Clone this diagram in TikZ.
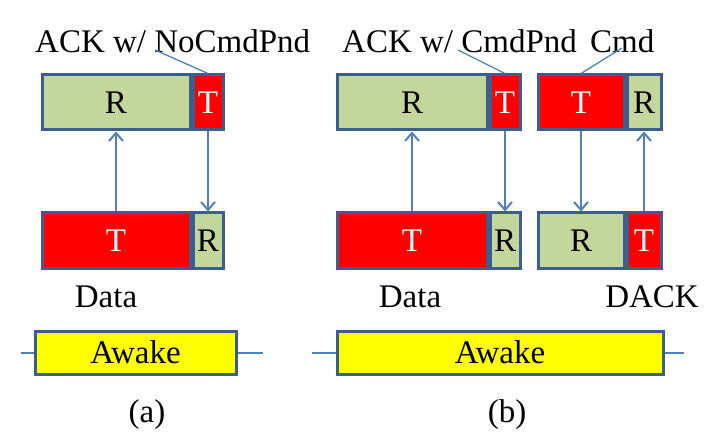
\documentclass[tikz,border=0pt]{standalone}
\usepackage{fontspec}
\setmainfont{Liberation Serif}
\usetikzlibrary{positioning,arrows.meta}
\definecolor{slotgreen}{HTML}{C3D69B}
\definecolor{slotred}{HTML}{FF0000}
\definecolor{slotborder}{HTML}{3B5E8C}
\definecolor{linkblue}{HTML}{4F81BD}
\definecolor{awakeyellow}{HTML}{FFFF00}
\newcommand{\bigtext}{\fontsize{33}{39}\selectfont}
\tikzset{
  slot/.style={draw=slotborder, line width=3pt, minimum height=55pt, inner sep=0pt, font=\bigtext},
  rx/.style={slot, fill=slotgreen, text=black},
  tx/.style={slot, fill=slotred, text=white},
  awakebox/.style={slot, fill=awakeyellow, minimum height=43pt, text=black},
  label/.style={inner sep=0pt, font=\bigtext},
  link/.style={draw=linkblue, line width=2pt, -{Straight Barb[length=8pt,width=14pt]}},
  leader/.style={draw=linkblue, line width=1.3pt},
  rail/.style={draw=linkblue, line width=2pt}
}
\begin{document}
\begin{tikzpicture}[x=1pt, y=-1pt]
    \useasboundingbox (0,0) rectangle (706,446);

    % Panel (a)
    \node[rx, minimum width=148pt] (upRa) at (116,102.5) {R};
    \node[tx, minimum width=30pt, right=0pt of upRa] (upTa) {T};
    \node[tx, minimum width=148pt] (dnTa) at (116,240.5) {T};
    \node[rx, minimum width=30pt, right=0pt of dnTa] (dnRa) {R};

    \node[label, anchor=base west] (ackA) at (35,53) {ACK w/ NoCmdPnd};
    \node[label, anchor=base] (dataA) at (106,307) {Data};

    % Panel (b)
    \node[rx, minimum width=150pt] (upRb) at (412,102.5) {R};
    \node[tx, minimum width=30pt, right=0pt of upRb] (upTb) {T};
    \node[tx, minimum width=86pt] (upTc) at (581,102.5) {T};
    \node[rx, minimum width=34pt, right=0pt of upTc] (upRc) {R};

    \node[tx, minimum width=150pt] (dnTb) at (412,240.5) {T};
    \node[rx, minimum width=30pt, right=0pt of dnTb] (dnRb) {R};
    \node[rx, minimum width=86pt] (dnRc) at (581,240.5) {R};
    \node[tx, minimum width=34pt, right=0pt of dnRc] (dnTc) {T};

    \node[label, anchor=base west] (ackB) at (342,53) {ACK w/ CmdPnd};
    \node[label, anchor=base west] (cmdB) at (590,53) {Cmd};
    \node[label, anchor=base] (dataB) at (410,307) {Data};
    \node[label, anchor=base] (dackB) at (652,307) {DACK};

    % Leader lines
    \coordinate (ackAfoot) at (155,50);
    \coordinate (ackBfoot) at (458,50);
    \coordinate (cmdBfoot) at (622,48);
    \draw[leader] (ackAfoot) -- (upTa.north);
    \draw[leader] (ackBfoot) -- (upTb.north);
    \draw[leader] (cmdBfoot) -- (upTc.north);

    % Arrows
    \draw[link] (dnTa.north) -- (upRa.south);
    \draw[link] (upTa.south) -- (dnRa.north);
    \draw[link] (dnTb.north) -- (upRb.south);
    \draw[link] (upTb.south) -- (dnRb.north);
    \draw[link] (upTc.south) -- (dnRc.north);
    \draw[link] (dnTc.north) -- (upRc.south);

    % Awake periods
    \node[awakebox, minimum width=201pt] (awakeA) at (135.5,352.5) {Awake};
    \node[awakebox, minimum width=326pt] (awakeB) at (500,352.5) {Awake};
    \coordinate (railAl) at (21,352.5);
    \coordinate (railAr) at (263,352.5);
    \coordinate (railBl) at (312,352.5);
    \coordinate (railBr) at (684,352.5);
    \draw[rail] (railAl) -- (awakeA.west);
    \draw[rail] (awakeA.east) -- (railAr);
    \draw[rail] (railBl) -- (awakeB.west);
    \draw[rail] (awakeB.east) -- (railBr);

    % Captions
    \node[label, anchor=base] (capA) at (147,422) {(a)};
    \node[label, anchor=base] (capB) at (507,422) {(b)};
\end{tikzpicture}
\end{document}
